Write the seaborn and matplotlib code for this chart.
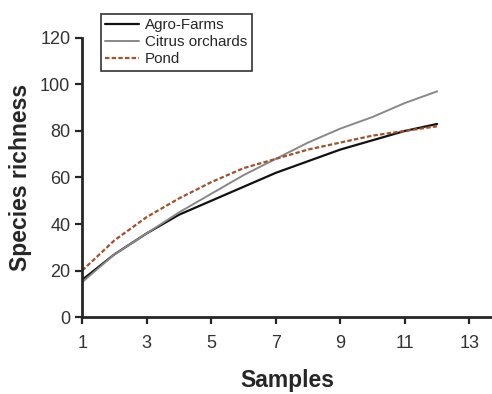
import pandas as pd
import matplotlib
matplotlib.use("Agg")
import matplotlib.pyplot as plt
import seaborn as sns

# ---- data ----
samples = [1, 2, 3, 4, 5, 6, 7, 8, 9, 10, 11, 12]
agro_farms = [16, 27, 36, 44, 50, 56, 62, 67, 72, 76, 80, 83]
citrus_orchards = [15, 27, 36, 45, 53, 61, 68, 75, 81, 86, 92, 97]
pond = [20, 33, 43, 51, 58, 64, 68, 72, 75, 78, 80, 82]

names = ['Agro-Farms', 'Citrus orchards', 'Pond']
x_ticks = [1, 3, 5, 7, 9, 11, 13]
y_ticks = [0, 20, 40, 60, 80, 100, 120]

df = pd.DataFrame({
    'Samples': samples * 3,
    'Species richness': agro_farms + citrus_orchards + pond,
    'site': [names[0]] * 12 + [names[1]] * 12 + [names[2]] * 12,
})

sns.set_style('ticks')
plt.rcParams['font.family'] = ['Liberation Sans', 'DejaVu Sans']

fig = plt.figure(figsize=(4.92, 3.94), dpi=100)
ax = fig.add_axes([0.167, 0.195, 0.833, 0.709])

palette = {names[0]: '#111111', names[1]: '#888888', names[2]: '#a0522d'}
dashes = {names[0]: '', names[1]: '', names[2]: (2, 1)}
sizes = {names[0]: 1.6, names[1]: 1.4, names[2]: 1.6}

sns.lineplot(data=df, x='Samples', y='Species richness', hue='site', style='site',
             size='site', sizes=sizes, palette=palette, dashes=dashes, ax=ax)

ax.set_xlim(1, 13.7)
ax.set_ylim(0, 120)
ax.set_xticks(x_ticks)
ax.set_yticks(y_ticks)
ax.tick_params(labelsize=13, labelcolor='#333333', width=1.6, length=5, direction='out')
ax.tick_params(axis='x', pad=8)
for s in ['left', 'bottom']:
    ax.spines[s].set_linewidth(2)
sns.despine(ax=ax)

ax.set_xlabel('Samples', fontsize=16.5, fontweight='bold', labelpad=12)
ax.set_ylabel('Species richness', fontsize=16.5, fontweight='bold', labelpad=6)

leg = ax.legend(loc='upper left', bbox_to_anchor=(0.205, 0.965), bbox_transform=fig.transFigure,
                fontsize=10.9, frameon=True, fancybox=False, handlelength=2.2,
                borderpad=0.3, labelspacing=0.2, handletextpad=0.4, borderaxespad=0)
leg.get_frame().set_edgecolor('black')
leg.get_frame().set_linewidth(1.2)

fig.savefig('out.png', dpi=100)
